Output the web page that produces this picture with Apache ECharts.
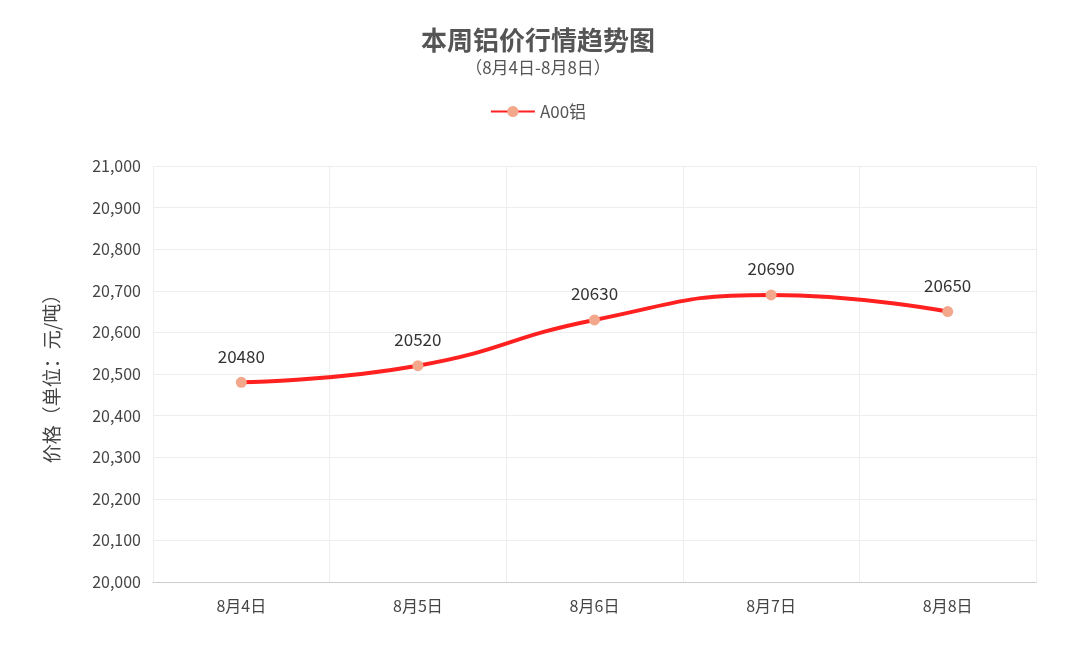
<!DOCTYPE html>
<html><head><meta charset="utf-8">
<script src="https://cdn.jsdelivr.net/npm/echarts@6/dist/echarts.min.js"></script>
<style>html,body{margin:0;padding:0;background:#fff}#c{width:1076px;height:668px}</style>
</head><body><div id="c"></div>
<script>
const categories = ['8月4日','8月5日','8月6日','8月7日','8月8日'];
const values = [20480, 20520, 20630, 20690, 20650];
const seriesName = 'A00铝';
const chart = echarts.init(document.getElementById('c'));
const font = '"Microsoft YaHei","Noto Sans CJK SC",sans-serif';
chart.setOption({
  textStyle:{fontFamily:font},
  title:{text:'本周铝价行情趋势图',subtext:'（8月4日-8月8日）',left:'center',top:22,
    textStyle:{fontSize:26,fontWeight:'bold',color:'#555',fontFamily:font},
    subtextStyle:{fontSize:17,color:'#555',fontFamily:font},itemGap:6},
  legend:{top:98,left:'center',data:[seriesName],itemWidth:44,itemHeight:14,
    textStyle:{fontSize:17,color:'#555',fontFamily:font}},
  grid:{left:153,right:40,top:166,bottom:86},
  xAxis:{type:'category',data:categories,boundaryGap:true,
    axisLine:{lineStyle:{color:'#ccc'}},axisTick:{show:false},
    axisLabel:{color:'#444',fontSize:16,margin:16},
    splitLine:{show:true,lineStyle:{color:'#eee'}}},
  yAxis:{type:'value',min:20000,max:21000,interval:100,
    name:'价格（单位：元/吨）',nameLocation:'middle',nameGap:92,nameRotate:90,
    nameTextStyle:{fontSize:19,color:'#444'},
    axisLine:{show:false},axisTick:{show:false},
    axisLabel:{color:'#444',fontSize:16,margin:12},
    splitLine:{lineStyle:{color:'#eee'}}},
  series:[{name:seriesName,type:'line',smooth:true,data:values,
    symbol:'circle',symbolSize:11,
    lineStyle:{color:'#ff2020',width:4},
    itemStyle:{color:'#f3a88c'},
    label:{show:true,position:'top',distance:12,color:'#333',fontSize:17}}]
});
</script></body></html>
